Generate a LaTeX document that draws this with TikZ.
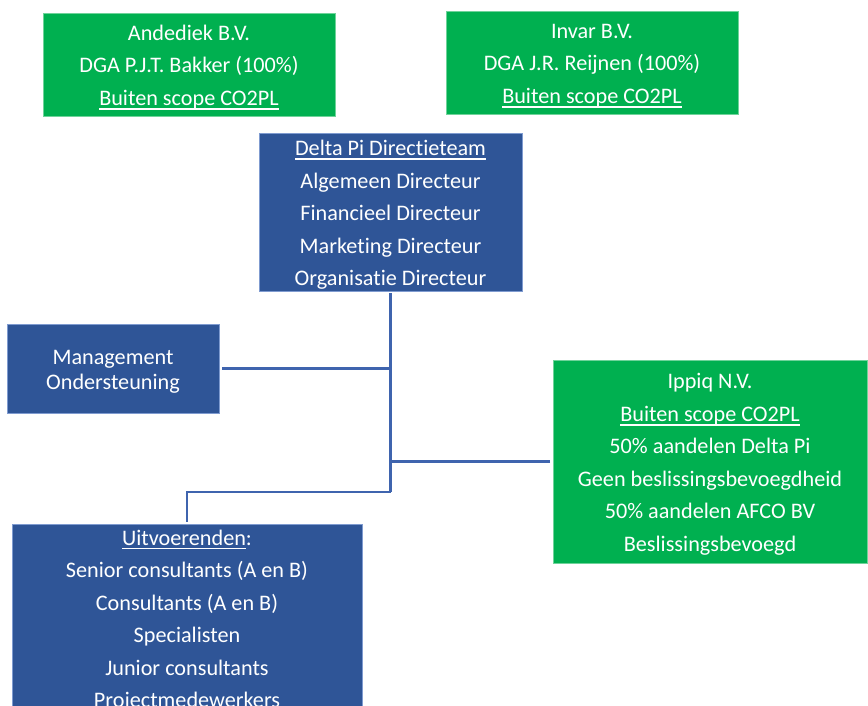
\documentclass[tikz,border=0pt]{standalone}
\usepackage{fontspec}
\setmainfont{Carlito}[Ligatures=NoCommon]
\definecolor{boxgreen}{HTML}{00B050}
\definecolor{greenedge}{HTML}{6FD39A}
\definecolor{boxblue}{HTML}{2F5597}
\definecolor{blueedge}{HTML}{7F9BD0}
\definecolor{connblue}{HTML}{3F64AE}
\newcommand{\ulx}[1]{\setbox0\hbox{#1}\rlap{\rule[-0.19em]{\wd0}{0.07em}}\box0}
\newcommand{\toprl}{\rule{0pt}{21pt}}
\tikzset{
  base/.style={rectangle, inner sep=0pt, outer sep=0pt, line width=0.8pt, text=white, align=center,
    anchor=north west, font=\fontsize{22.2}{32.5}\selectfont},
  greenbox/.style={base, fill=boxgreen, draw=greenedge},
  bluebox/.style={base, fill=boxblue, draw=blueedge},
  conn/.style={draw=connblue, line width=2.6pt}
}
\begin{document}
\begin{tikzpicture}[x=1pt,y=-1pt]
\useasboundingbox (0,0) rectangle (868,706);
\clip (0,0) rectangle (868,706);
\node[greenbox, minimum width=292pt, minimum height=103pt] (and) at (43,13)
  {\toprl Andediek B.V.\\DGA P.J.T. Bakker (100\%)\\\ulx{Buiten scope CO2PL}};
\node[greenbox, minimum width=292pt, minimum height=103pt] (inv) at (446,11)
  {\toprl Invar B.V.\\DGA J.R. Reijnen (100\%)\\\ulx{Buiten scope CO2PL}};
\node[bluebox, minimum width=263pt, minimum height=158pt] (dp) at (259,133)
  {\toprl\ulx{Delta Pi Directieteam}\\Algemeen Directeur\\Financieel Directeur\\Marketing Directeur\\Organisatie Directeur};
\node[bluebox, minimum width=212pt, minimum height=89pt, font=\fontsize{22.2}{24.5}\selectfont] (mo) at (7,324)
  {\toprl Management\\Ondersteuning};
\node[greenbox, minimum width=314pt, minimum height=203pt] (ip) at (553,360)
  {\toprl Ippiq N.V.\\\ulx{Buiten scope CO2PL}\\50\% aandelen Delta Pi\\Geen beslissingsbevoegdheid\\50\% aandelen AFCO BV\\Beslissingsbevoegd};
\node[bluebox, minimum width=350pt, minimum height=187pt] (uv) at (12,524)
  {\toprl\ulx{Uitvoerenden}:\\Senior consultants (A en B)\\Consultants (A en B)\\Specialisten\\Junior consultants\\Projectmedewerkers};
\coordinate (knee) at (390.5,492);
\draw[conn, shorten <=2pt] (dp.south) -- (knee);
\draw[conn, shorten <=3pt] (mo.east) -- (mo.east -| dp.south);
\draw[conn, shorten <=3pt] (ip.west) -- (ip.west -| dp.south);
\draw[conn, shorten >=2pt] (knee) -| (uv.north);
\end{tikzpicture}
\end{document}
